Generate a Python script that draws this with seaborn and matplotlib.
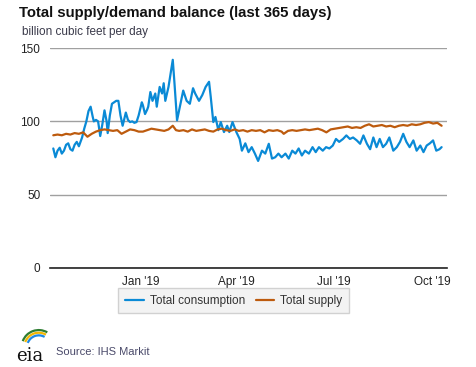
import pandas as pd
import matplotlib.pyplot as plt
import matplotlib.dates as mdates
from matplotlib.patches import Arc
import seaborn as sns

sns.set_style("white")
plt.rcParams["font.family"] = ["Liberation Sans", "DejaVu Sans"]

# first day of the 365-day window
start_date = "2018-10-11"

# Total consumption (day offset from start, Bcf/d)
cons_days = [0, 2, 4, 6, 8, 10, 12, 14, 16, 18, 20, 22, 24, 26, 27, 29, 31, 33, 35, 37,
             38, 40, 42, 44, 46, 48, 50, 51, 53, 55, 57, 59, 61, 63, 65, 67, 68, 70, 72, 74,
             76, 78, 80, 83, 84, 86, 88, 89, 91, 93, 95.6, 97, 99.7, 102, 103.5, 105, 108, 110.5, 112, 113.6,
             116, 118.7, 121.8, 125, 128, 131, 133, 136.6, 139.7, 142.8, 146, 147.6, 150, 152, 154.7, 157, 160, 163, 165, 168,
             171.6, 174.7, 176.8, 180, 183, 186, 189, 192, 195.6, 198.7, 202, 205, 208, 211, 214, 217.6, 220.7, 224, 227, 230,
             233, 236, 239.6, 243, 246, 249, 252.6, 255.7, 258.8, 262, 265, 268, 271.6, 274.7, 278, 281, 284.5, 287.6, 290.7, 294,
             297, 300, 303, 306, 309, 312, 315, 318.7, 322, 325, 328, 331, 334, 337.5, 340.6, 344, 347, 350, 353, 356,
             359, 362, 364]
cons_vals = [81.5, 75.5, 80, 82, 78, 80, 84, 85, 81, 80, 84, 86, 83, 87, 89, 95, 100, 107, 110, 103,
             100, 101, 100, 90, 98, 107.5, 100, 92, 104, 112, 113, 114, 114, 104, 97, 103, 106, 101, 99.5, 100,
             99, 99.5, 104, 113, 111, 105, 108, 110, 120, 114, 119, 110, 123.5, 119, 126, 114, 123.5, 135, 142, 126,
             100.7, 110, 121, 114, 112, 122.6, 119, 114, 118, 123.5, 127, 116.6, 99.5, 103, 94, 99.5, 92.7, 97, 92.7, 99.5,
             92.7, 88, 80, 85, 79, 82.4, 78, 73, 80, 78, 84.7, 74.6, 75.5, 78, 75.5, 78, 74.6, 80, 78, 81.5,
             76.7, 80, 78, 82.4, 79, 82.4, 80, 82.4, 81.5, 83.5, 88, 86, 88, 90.4, 88, 89, 87, 84.7, 90.4, 84.7,
             81, 89, 82.4, 88, 82.4, 84.7, 89, 80, 82.4, 86, 91.5, 86, 82.4, 87, 80, 83.5, 79, 83.5, 85, 87,
             80, 81, 82.4]

# Total supply (day offset from start, Bcf/d)
supply_days = [0, 4, 8, 12, 16, 20, 24, 28, 32, 36, 40, 44, 48, 52, 56, 60, 64, 68, 72, 76,
               80, 84, 88, 92, 96, 100, 104, 108, 112, 115, 118, 122, 126, 130, 134, 138, 142, 146, 150, 154,
               158, 162, 166, 170, 174, 178, 182, 186, 190, 194, 198, 202, 206, 210, 214, 216, 220, 224, 228, 232,
               236, 240, 244, 248, 252, 256, 260, 264, 268, 272, 276, 280, 284, 288, 292, 296, 300, 304, 308, 312,
               316, 320, 324, 328, 332, 336, 340, 344, 348, 352, 356, 360, 364]
supply_vals = [90.5, 91, 90.5, 91.5, 91, 92, 91.5, 92.5, 89.5, 91.5, 93, 94, 94.5, 94, 93.5, 94, 91.5, 93, 94.5, 94,
               93, 93, 94, 95, 94.5, 94, 93.5, 94.5, 97, 94, 93.5, 94, 93, 94.5, 93.5, 94, 94.5, 93.5, 93, 94.5,
               95, 94, 93.5, 94.5, 93.5, 94, 93, 94, 93.5, 94, 92.5, 94, 93.5, 94, 93, 91.5, 93.5, 94, 93.5, 94,
               94.5, 94, 94.5, 95, 94, 92.5, 94.5, 95, 95.5, 96, 96.5, 95.5, 96, 95.5, 97, 98, 96.5, 97, 97.5, 96.5,
               97, 96, 97, 97.5, 97, 98, 97.5, 98, 99, 99.5, 98.5, 99, 97]

start = pd.Timestamp(start_date)
cons = pd.DataFrame({"date": start + pd.to_timedelta(cons_days, unit="D"), "value": cons_vals})
supply = pd.DataFrame({"date": start + pd.to_timedelta(supply_days, unit="D"), "value": supply_vals})

blue = "#0a8ad6"
brown = "#bd5b0e"

fig = plt.figure(figsize=(4.77, 3.67), dpi=100)
ax = fig.add_axes([0.105, 0.270, 0.832, 0.599])

sns.lineplot(data=cons, x="date", y="value", color=blue, lw=1.6, ax=ax, label="Total consumption")
sns.lineplot(data=supply, x="date", y="value", color=brown, lw=1.6, ax=ax, label="Total supply")

ax.set_ylim(0, 150)
ax.set_yticks([0, 50, 100, 150])
ax.set_xlim(pd.Timestamp("2018-10-08"), pd.Timestamp("2019-10-15"))
ax.set_xticks(pd.to_datetime(["2019-01-01", "2019-04-01", "2019-07-01", "2019-10-01"]))
ax.xaxis.set_major_formatter(mdates.DateFormatter("%b '%y"))
ax.set_xlabel("")
ax.set_ylabel("")

ax.grid(axis="y", color="#a0a0a0", lw=1)
ax.set_axisbelow(True)
for s in ["top", "right", "left"]:
    ax.spines[s].set_visible(False)
ax.spines["bottom"].set_color("#222222")
ax.spines["bottom"].set_linewidth(1.2)
ax.tick_params(axis="y", length=0, pad=7, labelsize=8.5, labelcolor="#222222")
ax.tick_params(axis="x", length=4, width=1, color="#222222", pad=2, labelsize=8.5, labelcolor="#222222")

leg = ax.legend(loc="center", bbox_to_anchor=(0.49, 0.18), bbox_transform=fig.transFigure,
                ncol=2, frameon=True, fontsize=8.5, handlelength=1.6, columnspacing=0.9,
                borderpad=0.55, handletextpad=0.5, fancybox=False)
leg.get_frame().set_facecolor("#f0f0f0")
leg.get_frame().set_edgecolor("#c8c8c8")
for t in leg.get_texts():
    t.set_color("#333333")

fig.text(0.040, 0.985, "Total supply/demand balance (last 365 days)", fontsize=10.7,
         fontweight="bold", color="#111111", va="top", ha="left")
fig.text(0.046, 0.930, "billion cubic feet per day", fontsize=8.5, color="#3a3a4a", va="top", ha="left")
fig.text(0.117, 0.040, "Source: IHS Markit", fontsize=8, color="#4a4a6a", va="center", ha="left")

# eia logo
fig.text(0.062, 0.030, "eia", fontsize=13, family="DejaVu Serif", color="#111111", va="center", ha="center")
lax = fig.add_axes([0.025, 0.055, 0.075, 0.06])
lax.set_xlim(0, 1)
lax.set_ylim(0, 1)
lax.axis("off")
for r, c in [(0.95, "#2e7d32"), (0.80, "#f2b705"), (0.65, "#1e88e5")]:
    lax.add_patch(Arc((0.75, 0.0), r, r * 1.6, theta1=70, theta2=150, color=c, lw=1.6))

fig.savefig("out.png", dpi=100)
